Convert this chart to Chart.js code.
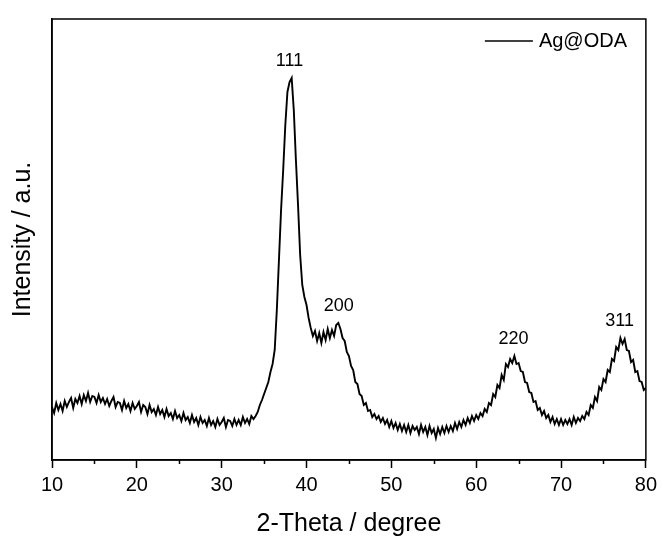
<!DOCTYPE html>
<html>
<head>
<meta charset="utf-8">
<script src="https://cdn.jsdelivr.net/npm/chart.js@4"></script>
<style>
  html, body { margin: 0; padding: 0; background: #fff; }
  #wrap { width: 662px; height: 541px; }
</style>
</head>
<body>
<div id="wrap"><canvas id="xrd" width="662" height="541"></canvas></div>
<script>
// XRD pattern of Ag@ODA, 2-theta from 10 to 80 deg in 0.25 deg steps
const startAngle = 10;
const angleStep = 0.25;
const intensity = [
  53, 47, 57, 50,   56, 49, 59, 53,   58, 62, 52, 61,   57, 64, 56, 65,   // 10-13
  59, 67, 58, 64,   63, 57, 65, 58,   62, 56, 61, 54,   59, 63, 53, 58,   // 14-17
  57, 50, 59, 52,   56, 49, 57, 51,   54, 58, 48, 55,   53, 46, 55, 48,   // 18-21
  51, 45, 53, 46,   50, 43, 51, 44,   47, 41, 49, 42,   45, 39, 47, 40,   // 22-25
  43, 37, 45, 38,   42, 35, 43, 37,   40, 34, 42, 35,   39, 33, 41, 35,   // 26-29
  38, 42, 33, 40,   39, 34, 41, 35,   40, 35, 43, 37,   41, 36, 44, 41,   // 30-33
  44, 48, 55, 60,   66, 72, 78, 88,   96, 110, 150, 200,                   // 34-36
  250, 290, 335, 368,   378, 382, 350, 300,                                 // 37-38
  255, 205, 175, 163,   155, 142, 132, 124,                                 // 39-40
  129, 119, 127, 117,   128, 120, 131, 122,   130, 124, 135, 137,           // 41-43
  131, 122, 119, 108,   104, 94, 90, 78,   76, 66, 64, 55,   57, 49, 50, 43, // 44-47
  46, 41, 44, 38,   42, 36, 40, 33,   39, 32, 37, 30,   36, 29, 35, 28,   // 48-51
  35, 27, 34, 30,   33, 26, 35, 28,   33, 25, 34, 27,   31, 22, 32, 26,   // 52-55
  33, 27, 34, 28,   34, 29, 37, 31,   38, 33, 40, 35,   42, 37, 44, 39,   // 56-59
  45, 41, 47, 44,   51, 48, 57, 55,   66, 63, 75, 72,   85, 80, 96, 93,   // 60-63
  101, 97, 104, 96,   97, 89, 88, 78,   77, 68, 67, 58,   59, 50, 52, 45, // 64-67
  49, 42, 45, 38,   43, 36, 41, 35,   41, 35, 40, 36,   41, 35, 43, 37,   // 68-71
  42, 39, 44, 41,   48, 45, 55, 52,   63, 59, 73, 70,   81, 78, 90, 88,   // 72-75
  101, 99, 113, 110,   122, 116, 121, 110,   109, 98, 100, 88,           // 76-78
  89, 79, 78, 70,   72                                                    // 79-80
];
const twoTheta = intensity.map((_, i) => startAngle + i * angleStep);

const xTicks = [10, 20, 30, 40, 50, 60, 70, 80];
const xMinorTicks = [15, 25, 35, 45, 55, 65, 75];

const peakLabels = ['111', '200', '220', '311'];
const peakAngles = [38.0, 43.8, 64.4, 76.9];

const seriesName = 'Ag@ODA';

const FONT = '"Liberation Sans", Arial, sans-serif';

const framePlugin = {
  id: 'frame',
  afterDraw(chart) {
    const { ctx, chartArea: a, scales } = chart;
    ctx.save();
    // box round the plot
    ctx.strokeStyle = '#000';
    ctx.lineWidth = 1.5;
    ctx.strokeRect(a.left, a.top, a.right - a.left, a.bottom - a.top);

    // minor ticks on the x axis
    ctx.beginPath();
    xMinorTicks.forEach(v => {
      const px = Math.round(scales.x.getPixelForValue(v)) + 0.5;
      ctx.moveTo(px, a.bottom);
      ctx.lineTo(px, a.bottom + 4);
    });
    ctx.stroke();

    // peak labels (Miller indices)
    ctx.fillStyle = '#000';
    ctx.font = '18px ' + FONT;
    ctx.textAlign = 'center';
    ctx.textBaseline = 'middle';
    peakLabels.forEach((txt, i) => {
      let best = 0;
      twoTheta.forEach((t, j) => {
        if (Math.abs(t - peakAngles[i]) <= 0.5 && intensity[j] > best) best = intensity[j];
      });
      const px = scales.x.getPixelForValue(peakAngles[i]);
      const py = scales.y.getPixelForValue(best) - 17;
      ctx.fillText(txt, px, py);
    });

    // legend inside the plot
    const ly = a.top + 22;
    ctx.beginPath();
    ctx.lineWidth = 1.6;
    ctx.moveTo(a.right - 161, ly);
    ctx.lineTo(a.right - 113, ly);
    ctx.stroke();
    ctx.font = '20px ' + FONT;
    ctx.textAlign = 'left';
    ctx.fillText(seriesName, a.right - 107, ly);
    ctx.restore();
  }
};

new Chart(document.getElementById('xrd'), {
  type: 'line',
  data: {
    datasets: [{
      label: seriesName,
      data: twoTheta.map((t, i) => ({ x: t, y: intensity[i] })),
      borderColor: '#000',
      borderWidth: 1.9,
      pointRadius: 0,
      tension: 0,
      fill: false
    }]
  },
  options: {
    responsive: false,
    animation: false,
    layout: { padding: { top: 19, right: 14, left: 0, bottom: 0 } },
    plugins: {
      legend: { display: false },
      tooltip: { enabled: false }
    },
    scales: {
      x: {
        type: 'linear',
        min: 10,
        max: 80,
        afterBuildTicks(scale) {
          scale.ticks = xTicks.map(v => ({ value: v }));
        },
        afterFit(scale) { scale.height = 81; },
        ticks: {
          color: '#000',
          padding: 5,
          maxRotation: 0,
          font: { family: FONT, size: 20 }
        },
        grid: {
          display: true,
          drawOnChartArea: false,
          drawTicks: true,
          tickLength: 8,
          tickWidth: 1.5,
          tickColor: '#000'
        },
        border: { display: true, color: '#000', width: 1.5 },
        title: {
          display: true,
          text: '2-Theta / degree',
          color: '#000',
          font: { family: FONT, size: 25 },
          padding: { top: 0, bottom: 2 }
        }
      },
      y: {
        min: 0,
        max: 441,
        afterFit(scale) { scale.width = 52; },
        ticks: { display: false },
        grid: { display: false },
        border: { display: true, color: '#000', width: 1.5 },
        title: {
          display: true,
          text: 'Intensity / a.u.',
          color: '#000',
          font: { family: FONT, size: 25 },
          padding: { top: 8, bottom: 0 }
        }
      }
    }
  },
  plugins: [framePlugin]
});
</script>
</body>
</html>
